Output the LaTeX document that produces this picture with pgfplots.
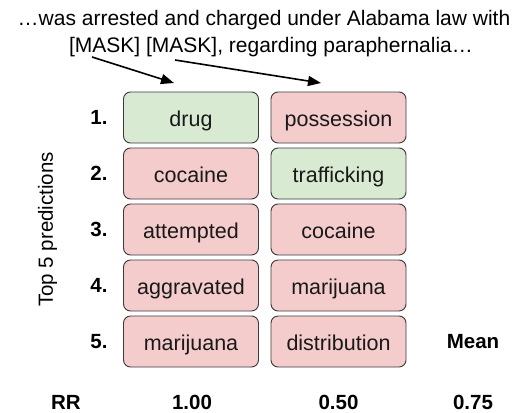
\documentclass[border=0pt]{standalone}
\usepackage{pgfplots}
\pgfplotsset{compat=1.18}
\usepackage{pgfplotstable}
\usepackage{fontspec}
\setmainfont{Liberation Sans}
\usetikzlibrary{arrows.meta}
\definecolor{boxgreen}{HTML}{D9EAD3}
\definecolor{boxred}{HTML}{F4CCCC}
\definecolor{boxline}{HTML}{3A3A3A}
\pgfplotstableread{
x y label
191 117.5 drug
338.5 173.5 trafficking
}\greentab
\pgfplotstableread{
x y label
338.5 117.5 possession
191 173.5 cocaine
191 229.5 attempted
338.5 229.5 cocaine
191 285.5 aggravated
338.5 285.5 marijuana
191 341.5 marijuana
338.5 341.5 distribution
}\redtab
\pgfplotstableread{
x y label
66 402 RR
192 402 1.00
338.5 402 0.50
473 402 0.75
}\rrtab
\begin{document}
\begin{tikzpicture}
\begin{axis}[
  width=529pt, height=412pt, scale only axis,
  xmin=0, xmax=529, ymin=0, ymax=412, y dir=reverse,
  axis lines=none, clip=false,
  point meta=explicit symbolic,
  nodes near coords={\pgfplotspointmeta},
]
\path (rel axis cs:0,0) (rel axis cs:1,1);
\addplot[only marks, mark=*, mark size=0pt, draw=none, fill=none,
  nodes near coords style={anchor=center, draw=boxline, line width=0.9pt, rounded corners=7pt,
    fill=boxgreen, minimum width=135pt, minimum height=51pt, text=black!90,
    text height=22.5pt, text depth=4pt, inner sep=0pt,
    font=\fontsize{21.5}{24}\selectfont}]
  table[x=x, y=y, meta=label] {\greentab};
\addplot[only marks, mark=*, mark size=0pt, draw=none, fill=none,
  nodes near coords style={anchor=center, draw=boxline, line width=0.9pt, rounded corners=7pt,
    fill=boxred, minimum width=135pt, minimum height=51pt, text=black!90,
    text height=22.5pt, text depth=4pt, inner sep=0pt,
    font=\fontsize{21.5}{24}\selectfont}]
  table[x=x, y=y, meta=label] {\redtab};
\addplot[only marks, mark=*, mark size=0pt, draw=none, fill=none,
  nodes near coords style={anchor=center, text=black, font=\bfseries\fontsize{20.5}{24}\selectfont}]
  table[x=x, y=y, meta=label] {\rrtab};
% row numbers
\foreach \i/\yy in {1/117.5,2/173.5,3/229.5,4/285.5,5/341.5}{
  \edef\tmp{\noexpand\node[anchor=east, font=\noexpand\bfseries\noexpand\fontsize{20.5}{24}\noexpand\selectfont] at (axis cs:111,\yy) {\i.};}
  \tmp
}
\node[font=\bfseries\fontsize{20.5}{24}\selectfont] at (axis cs:473,342) {Mean};
\node[rotate=90, font=\fontsize{20.5}{24}\selectfont] at (axis cs:47.5,229.5) {Top 5 predictions};
\node[font=\fontsize{21}{24}\selectfont] at (axis cs:264,20) {\ldots was arrested and charged under Alabama law with};
\node[font=\fontsize{21}{24}\selectfont] at (axis cs:271,47) {[MASK] [MASK], regarding paraphernalia\ldots};
\draw[line width=1.6pt, -{Triangle[length=13pt,width=10pt]}] (axis cs:92,57) -- (axis cs:174,83);
\draw[line width=1.6pt, -{Triangle[length=13pt,width=10pt]}] (axis cs:175,60) -- (axis cs:321,83);
\end{axis}
\end{tikzpicture}
\end{document}
